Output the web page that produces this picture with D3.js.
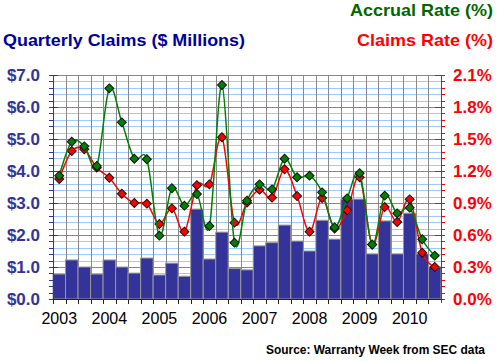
<!DOCTYPE html>
<html>
<head>
<meta charset="utf-8">
<script src="https://cdn.jsdelivr.net/npm/d3@7"></script>
<style>
  body { margin: 0; background: #fff; }
  svg { display: block; font-family: "Liberation Sans", Arial, sans-serif; }
</style>
</head>
<body>
<svg id="chart" width="497" height="361"></svg>
<script>
const quarters = [
  "2003Q1", "2003Q2", "2003Q3", "2003Q4",
  "2004Q1", "2004Q2", "2004Q3", "2004Q4",
  "2005Q1", "2005Q2", "2005Q3", "2005Q4",
  "2006Q1", "2006Q2", "2006Q3", "2006Q4",
  "2007Q1", "2007Q2", "2007Q3", "2007Q4",
  "2008Q1", "2008Q2", "2008Q3", "2008Q4",
  "2009Q1", "2009Q2", "2009Q3", "2009Q4",
  "2010Q1", "2010Q2", "2010Q3"
];
const years = ["2003", "2004", "2005", "2006", "2007", "2008", "2009", "2010"];

// quarterly claims, $ millions
const claims = [
  0.78, 1.22, 1.0, 0.78,
  1.22, 1.0, 0.81, 1.28,
  0.75, 1.12, 0.71, 2.81,
  1.25, 2.09, 0.95, 0.91,
  1.66, 1.76, 2.31, 1.81,
  1.5, 2.46, 1.87, 3.12,
  3.12, 1.41, 2.44, 1.41,
  2.68, 1.41, 1.0
];
// claims rate, %
const claimsRate = [
  1.125, 1.387, 1.403, 1.231,
  1.137, 0.987, 0.9, 0.894,
  0.703, 0.85, 0.631, 1.066,
  1.075, 1.516, 0.716, 0.903,
  1.025, 0.95, 1.216, 0.966,
  0.631, 0.947, 0.66, 0.831,
  1.141, 0.51, 0.863, 0.722,
  0.934, 0.434, 0.3
];
// accrual rate, %
const accrualRate = [
  1.156, 1.475, 1.431, 1.247,
  1.975, 1.656, 1.315, 1.31,
  0.594, 1.038, 0.875, 0.984,
  0.684, 2.006, 0.528, 0.922,
  1.075, 1.028, 1.315, 1.141,
  1.156, 1.0, 0.672, 0.944,
  1.18, 0.51, 0.969, 0.803,
  0.856, 0.56, 0.406
];
const leftTicks = [0, 1, 2, 3, 4, 5, 6, 7];
const rightTicks = [0, 0.3, 0.6, 0.9, 1.2, 1.5, 1.8, 2.1];

const svg = d3.select("#chart");
const L = 53, R = 441, T = 75, B = 299;

const x = d3.scaleBand().domain(quarters).range([L, R]).padding(0);
const yL = d3.scaleLinear().domain([0, 7]).range([B, T]);
const yR = d3.scaleLinear().domain([0, 2.1]).range([B, T]);

const minor = d3.range(0, 7.0001, 0.2);

// grid
const grid = svg.append("g");
grid.selectAll("line.minor")
  .data(minor.filter(v => Math.abs(v - Math.round(v)) > 0.01))
  .enter().append("line")
  .attr("x1", L).attr("x2", R)
  .attr("y1", d => Math.round(yL(d)) + 0.5).attr("y2", d => Math.round(yL(d)) + 0.5)
  .attr("stroke", "#99ccff");
grid.selectAll("line.major")
  .data(leftTicks)
  .enter().append("line")
  .attr("x1", L).attr("x2", R)
  .attr("y1", d => Math.round(yL(d)) + 0.5).attr("y2", d => Math.round(yL(d)) + 0.5)
  .attr("stroke", "#888");
grid.selectAll("line.vert")
  .data(quarters.slice(1))
  .enter().append("line")
  .attr("x1", d => Math.round(x(d)) + 0.5).attr("x2", d => Math.round(x(d)) + 0.5)
  .attr("y1", T).attr("y2", B)
  .attr("stroke", "#888");

// bars
svg.append("g").selectAll("rect")
  .data(claims)
  .enter().append("rect")
  .attr("x", (d, i) => x(quarters[i]))
  .attr("y", d => yL(d))
  .attr("width", x.bandwidth())
  .attr("height", d => B - yL(d))
  .attr("fill", "#333399")
  .attr("stroke", "#999")
  .attr("stroke-width", 1);

// lines
const cx = i => x(quarters[i]) + x.bandwidth() / 2;
const line = d3.line()
  .x((d, i) => cx(i))
  .y(d => yR(d))
  .curve(d3.curveCardinal.tension(0));

const diamond = d3.symbol().type(d3.symbolDiamond2 || d3.symbolDiamond).size(50);

function drawSeries(data, lineColor, fill) {
  svg.append("path")
    .datum(data)
    .attr("d", line)
    .attr("fill", "none")
    .attr("stroke", lineColor)
    .attr("stroke-width", 1.5);
  svg.append("g").selectAll("path")
    .data(data)
    .enter().append("path")
    .attr("transform", (d, i) => "translate(" + cx(i) + "," + yR(d) + ")")
    .attr("d", d3.symbol().type(d3.symbolSquare).size(40))
    .attr("transform", (d, i) => "translate(" + cx(i) + "," + yR(d) + ") rotate(45)")
    .attr("fill", fill)
    .attr("stroke", "#111")
    .attr("stroke-width", 1);
}
drawSeries(claimsRate, "#ff0000", "#ff0000");
drawSeries(accrualRate, "#008000", "#008000");

// left axis
const la = svg.append("g");
la.append("line").attr("x1", L + 0.5).attr("x2", L + 0.5).attr("y1", T).attr("y2", B + 4)
  .attr("stroke", "#333399");
la.selectAll("line.t").data(minor).enter().append("line")
  .attr("x1", L - 4).attr("x2", d => Math.abs(d - Math.round(d)) < 0.01 ? L + 5 : L)
  .attr("y1", d => Math.round(yL(d)) + 0.5).attr("y2", d => Math.round(yL(d)) + 0.5)
  .attr("stroke", "#333399");
la.selectAll("text").data(leftTicks).enter().append("text")
  .attr("x", 40).attr("y", d => yL(d) + 6)
  .attr("text-anchor", "end")
  .attr("font-size", 17).attr("font-weight", "bold")
  .attr("fill", "#333399")
  .text(d => "$" + d3.format(".1f")(d));

// right axis
const ra = svg.append("g");
ra.append("line").attr("x1", R + 0.5).attr("x2", R + 0.5).attr("y1", T).attr("y2", B + 4)
  .attr("stroke", "#ff0000");
ra.selectAll("line.t").data(minor).enter().append("line")
  .attr("x1", d => Math.abs(d - Math.round(d)) < 0.01 ? R - 6 : R).attr("x2", R + 4)
  .attr("y1", d => Math.round(yL(d)) + 0.5).attr("y2", d => Math.round(yL(d)) + 0.5)
  .attr("stroke", "#ff0000");
ra.selectAll("text").data(rightTicks).enter().append("text")
  .attr("x", 453).attr("y", d => yR(d) + 6)
  .attr("font-size", 17).attr("font-weight", "bold")
  .attr("fill", "#ff0000")
  .text(d => d3.format(".1f")(d) + "%");

// x axis
const xa = svg.append("g");
xa.append("line").attr("x1", L).attr("x2", R + 1).attr("y1", B + 0.5).attr("y2", B + 0.5)
  .attr("stroke", "#222");
xa.selectAll("line.t").data(quarters).enter().append("line")
  .attr("x1", d => Math.round(x(d)) + 0.5).attr("x2", d => Math.round(x(d)) + 0.5)
  .attr("y1", B).attr("y2", B + 5)
  .attr("stroke", "#222");
xa.selectAll("text").data(years).enter().append("text")
  .attr("x", d => x(d + "Q1") + x.bandwidth() / 2)
  .attr("y", 324)
  .attr("text-anchor", "middle")
  .attr("font-size", 16)
  .attr("fill", "#000")
  .text(d => d);

// titles
svg.append("text").attr("x", 493).attr("y", 16).attr("text-anchor", "end")
  .attr("font-size", 17).attr("font-weight", "bold").attr("fill", "#006600")
  .attr("textLength", 143).attr("lengthAdjust", "spacingAndGlyphs")
  .text("Accrual Rate (%)");
svg.append("text").attr("x", 3).attr("y", 46)
  .attr("font-size", 17).attr("font-weight", "bold").attr("fill", "#000099")
  .attr("textLength", 242).attr("lengthAdjust", "spacingAndGlyphs")
  .text("Quarterly Claims ($ Millions)");
svg.append("text").attr("x", 493).attr("y", 46).attr("text-anchor", "end")
  .attr("font-size", 17).attr("font-weight", "bold").attr("fill", "#ff0000")
  .attr("textLength", 136).attr("lengthAdjust", "spacingAndGlyphs")
  .text("Claims Rate (%)");
svg.append("text").attr("x", 266).attr("y", 354)
  .attr("font-size", 12.5).attr("font-weight", "bold").attr("fill", "#000")
  .attr("textLength", 219).attr("lengthAdjust", "spacingAndGlyphs")
  .text("Source: Warranty Week from SEC data");
</script>
</body>
</html>
